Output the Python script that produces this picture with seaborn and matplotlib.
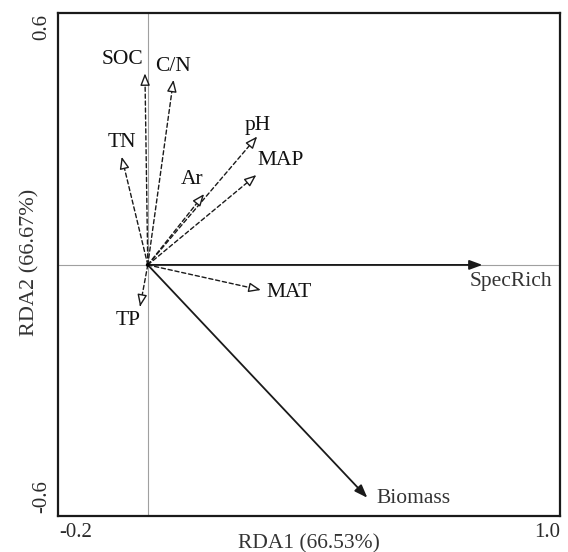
import numpy as np
import pandas as pd
import matplotlib
matplotlib.use("Agg")
import matplotlib.pyplot as plt
import matplotlib.transforms as mtransforms
import seaborn as sns

# ---- data ----
response_names = ["SpecRich", "Biomass"]
response_x = [0.82, 0.538]
response_y = [0.0, -0.575]

env_names = ["SOC", "C/N", "TN", "pH", "MAP", "Ar", "MAT", "TP"]
env_x = [-0.007, 0.063, -0.064, 0.268, 0.266, 0.138, 0.277, -0.019]
env_y = [0.473, 0.457, 0.267, 0.317, 0.222, 0.175, -0.062, -0.103]

# label anchor positions (data units)
env_label_x = [-0.063, 0.062, -0.063, 0.269, 0.326, 0.109, 0.347, -0.048]
env_label_y = [0.507, 0.490, 0.302, 0.345, 0.257, 0.210, -0.069, -0.138]
resp_label_x = [0.891, 0.650]
resp_label_y = [-0.041, -0.578]

xlim = (-0.22, 1.01)
ylim = (-0.62, 0.622)
x_ticks = [-0.2, 0.0, 0.2, 0.4, 0.6, 0.8, 1.0]
x_ticklabels = ["-0.2", "", "", "", "", "", "1.0"]
y_ticks = [-0.6, -0.4, -0.2, 0.0, 0.2, 0.4, 0.6]
y_ticklabels = ["-0.6", "", "", "", "", "", "0.6"]

sns.set_theme(style="white")
plt.rcParams["font.family"] = ["Liberation Serif", "DejaVu Serif"]
plt.rcParams["text.color"] = "#2a2a2a"

fig = plt.figure(figsize=(5.68, 5.52), dpi=100)
ax = fig.add_axes([58 / 568, 1 - 516 / 552, (560 - 58) / 568, (516 - 13) / 552])

# reference lines
ax.axhline(0, color="#a0a0a0", lw=0.8, zorder=1)
ax.axvline(0, color="#a0a0a0", lw=0.8, zorder=1)

# origin dot
sns.scatterplot(x=[0.0], y=[0.0], ax=ax, color="black", s=8, zorder=5, edgecolor="none", legend=False)

# environmental arrows: dashed shaft + open head
for name, x, y, lx, ly in zip(env_names, env_x, env_y, env_label_x, env_label_y):
    ax.annotate("", xy=(x, y), xytext=(0, 0),
                arrowprops=dict(arrowstyle="-", linestyle=(0, (3, 2)), lw=1.0,
                                color="#1a1a1a", shrinkA=0, shrinkB=5), zorder=3)
    ax.annotate("", xy=(x, y), xytext=(x * 0.96, y * 0.96),
                arrowprops=dict(arrowstyle="-|>,head_length=0.6,head_width=0.24",
                                lw=1.0, ec="#1a1a1a", fc="white", shrinkA=0, shrinkB=0),
                zorder=4)
    ax.text(lx, ly, name, ha="center", va="center", fontsize=15.5, color="#111111")

# response arrows: solid, filled head
for name, x, y, lx, ly in zip(response_names, response_x, response_y, resp_label_x, resp_label_y):
    ax.annotate("", xy=(x, y), xytext=(0, 0),
                arrowprops=dict(arrowstyle="-|>,head_length=0.65,head_width=0.24",
                                lw=1.3, color="#1a1a1a", shrinkA=0, shrinkB=0), zorder=4)
    ax.text(lx, ly, name, ha="center", va="center", fontsize=15.5, color="#333333")

ax.set_xlim(*xlim)
ax.set_ylim(*ylim)
ax.set_xticks(x_ticks)
ax.set_xticklabels(x_ticklabels)
ax.set_yticks(y_ticks)
ax.set_yticklabels(y_ticklabels, rotation=90, va="center")
ax.tick_params(direction="in", length=4, width=1, colors="#1a1a1a", labelcolor="#2a2a2a",
               labelsize=15, pad=5)

for sp in ax.spines.values():
    sp.set_visible(True)
    sp.set_linewidth(1.6)
    sp.set_color("#1a1a1a")

ax.set_xlabel("RDA1 (66.53%)", fontsize=15.5, color="#333333")
ax.set_ylabel("RDA2 (66.67%)", fontsize=16, color="#333333")
ax.xaxis.set_label_coords(0.5, -0.036)
ax.yaxis.set_label_coords(-0.037, 0.505)

# shift end tick labels inward like the reference
xl = ax.get_xticklabels()
xl[0].set_transform(xl[0].get_transform() + mtransforms.ScaledTranslation(10 / 100, 0, fig.dpi_scale_trans))
xl[-1].set_transform(xl[-1].get_transform() + mtransforms.ScaledTranslation(-9 / 100, 0, fig.dpi_scale_trans))
yl = ax.get_yticklabels()
yl[0].set_transform(yl[0].get_transform() + mtransforms.ScaledTranslation(0, 11 / 100, fig.dpi_scale_trans))
yl[-1].set_transform(yl[-1].get_transform() + mtransforms.ScaledTranslation(0, -5 / 100, fig.dpi_scale_trans))

fig.savefig("out.png", dpi=100)
